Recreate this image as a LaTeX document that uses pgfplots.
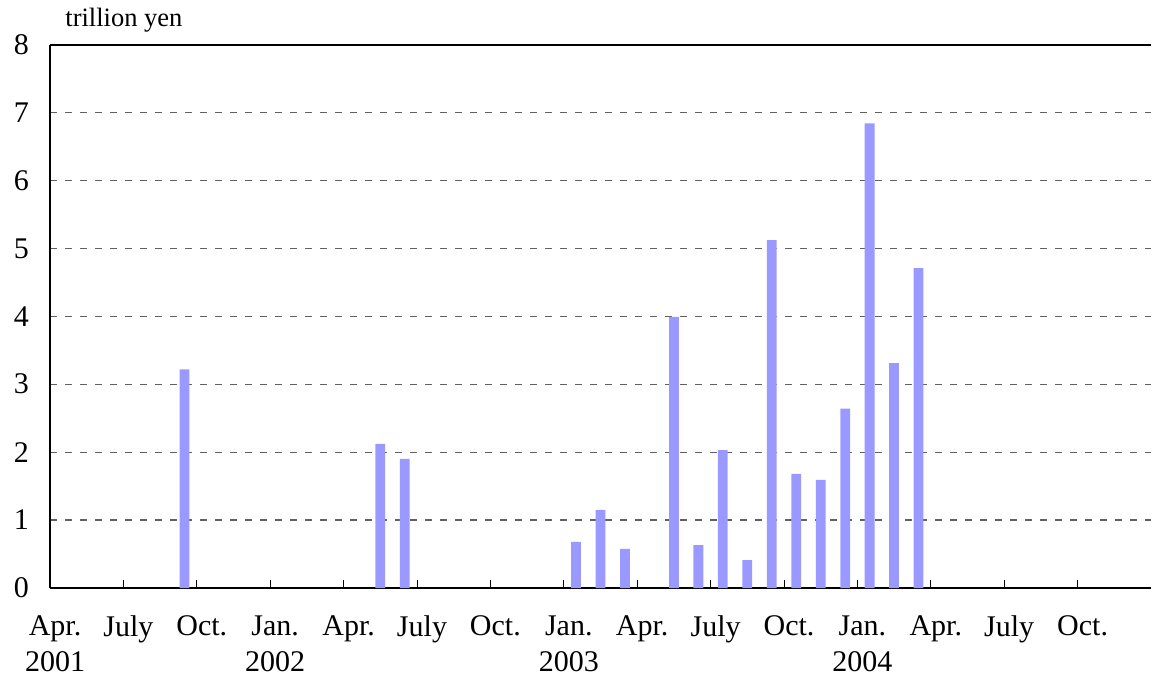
\documentclass[border=0pt]{standalone}
\usepackage{fontspec}
\setmainfont{Liberation Serif}
\usepackage{pgfplots}
\pgfplotsset{compat=1.18}
\definecolor{barc}{RGB}{153,153,255}
\begin{document}
\begin{tikzpicture}
\begin{axis}[
  at={(25pt,44.5pt)}, anchor=south west,
  scale only axis, width=550.5pt, height=271.75pt,
  xmin=-0.5, xmax=44.5, ymin=0, ymax=8,
  axis x line*=bottom, axis y line*=left,
  axis line style={line width=1pt, -},
  ybar, bar width=0.4,
  ytick={0,1,...,8},
  ytick style={draw=none},
  xtick={-0.5,2.5,...,41.5},
  xticklabels={{Apr.\\2001},July,Oct.,{Jan.\\2002},Apr.,July,Oct.,{Jan.\\2003},Apr.,July,Oct.,{Jan.\\2004},Apr.,July,Oct.},
  x tick label style={align=center, yshift=-12.5pt, xshift=2.5pt, inner sep=1pt},
  y tick label style={xshift=-7pt},
  tick label style={font=\fontsize{15}{18}\selectfont},
  /pgf/number format/assume math mode=true,
  xtick style={black, line width=0.5pt},
  tick align=inside, major tick length=4pt,
  ymajorgrids,
  major grid style={black!62, line width=0.6pt, dash pattern=on 3.5pt off 4pt},
  extra y ticks={8}, extra y tick labels={},
  extra y tick style={grid=major, major grid style={black, line width=1pt, solid}},
  clip=false,
]
\addplot[fill=barc, draw=none] coordinates {
 (5,3.22) (13,2.12) (14,1.90) (21,0.68) (22,1.15) (23,0.575)
 (25,3.99) (26,0.63) (27,2.03) (28,0.41) (29,5.12) (30,1.68)
 (31,1.59) (32,2.64) (33,6.84) (34,3.31) (35,4.71)
};
\node[anchor=base west, font=\fontsize{13.25}{16}\selectfont, inner sep=0pt] at ([xshift=7.5pt, yshift=9pt]rel axis cs:0,1) {trillion yen};
\end{axis}
\pgfresetboundingbox
\path[use as bounding box] (0,0) rectangle (576pt,338.5pt);
\end{tikzpicture}
\end{document}
